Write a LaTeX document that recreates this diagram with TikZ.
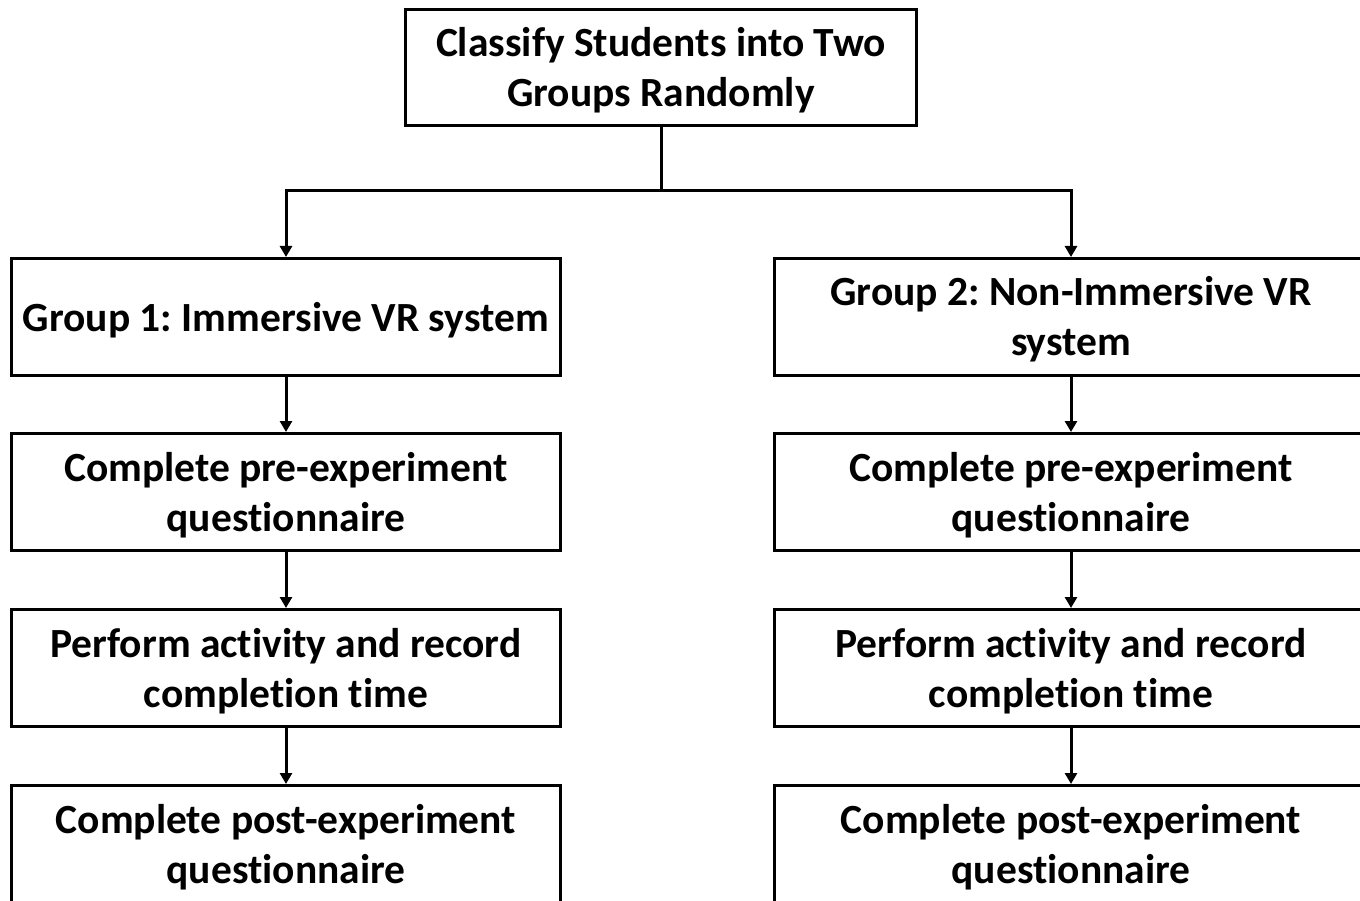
\documentclass[tikz,border=0pt]{standalone}
\usepackage{fontspec}
\setmainfont{Carlito}[Ligatures=NoCommon]
\usetikzlibrary{arrows.meta}
\frenchspacing
\newcommand\boxtext[1]{\raisebox{-4pt}[\height][\depth]{\begin{tabular}{@{}c@{}}#1\end{tabular}}}
\begin{document}
\begin{tikzpicture}[x=1pt,y=-1pt,
  box/.style={draw=black,line width=3pt,fill=white,align=center,inner sep=0pt,
    font=\fontsize{41.5}{50}\selectfont\bfseries},
  lbox/.style={box,minimum width=549pt,minimum height=117pt},
  rbox/.style={box,minimum width=593pt,minimum height=117pt},
  link/.style={line width=3pt},
  arr/.style={line width=3pt,-{Triangle[length=11pt,width=12pt]}}]
\useasboundingbox (0,0) rectangle (1360,901);
\clip (0,0) rectangle (1360,901);
\node[box,minimum width=511pt,minimum height=116pt] (top) at (661,67.5) {\boxtext{Classify Students into Two\\Groups Randomly}};
\node[lbox] (g1) at (286,317) {\boxtext{Group 1: Immersive VR system}};
\node[lbox] (a1) at (286,492) {\boxtext{Complete pre-experiment\\questionnaire}};
\node[lbox] (b1) at (286,668) {\boxtext{Perform activity and record\\completion time}};
\node[lbox] (c1) at (286,844) {\boxtext{Complete post-experiment\\questionnaire}};
\node[rbox] (g2) at (1071,317) {\boxtext{Group 2: Non-Immersive VR\\system}};
\node[rbox] (a2) at (1071,492) {\boxtext{Complete pre-experiment\\questionnaire}};
\node[rbox] (b2) at (1071,668) {\boxtext{Perform activity and record\\completion time}};
\node[rbox] (c2) at (1071,844) {\boxtext{Complete post-experiment\\questionnaire}};
\coordinate (j) at (661,191);
\draw[link] (top.south) -- (j);
\draw[arr] (j) -| (g1.north);
\draw[arr] (j) -| (g2.north);
\draw[arr] (g1) -- (a1);
\draw[arr] (a1) -- (b1);
\draw[arr] (b1) -- (c1);
\draw[arr] (g2) -- (a2);
\draw[arr] (a2) -- (b2);
\draw[arr] (b2) -- (c2);
\end{tikzpicture}
\end{document}
